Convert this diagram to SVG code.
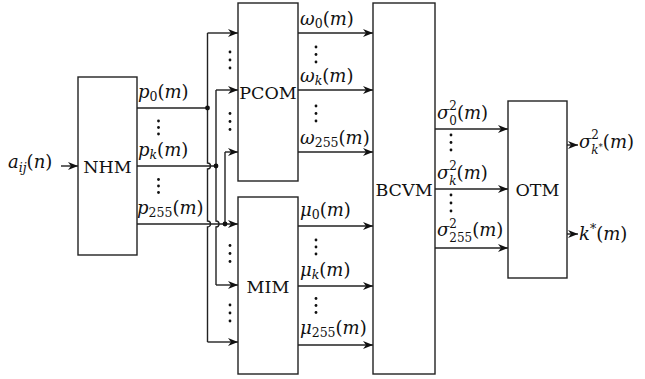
<svg xmlns="http://www.w3.org/2000/svg" width="645" height="379" viewBox="0 0 645 379">
<defs>
<style>
.box{fill:#fff;stroke:#222;stroke-width:1.4}
.ln{fill:none;stroke:#222;stroke-width:1.4}
.bt{font-family:'DejaVu Serif',serif;font-size:17.5px;fill:#111;text-anchor:middle}
.m{font-family:'DejaVu Serif',serif;font-size:18px;fill:#111}
.i{font-style:italic}
.s{font-size:12.5px}
.t{font-size:12px}
.d{fill:#111}
</style>
<marker id="arr" viewBox="0 0 10 8" refX="10" refY="4" markerWidth="10" markerHeight="8" markerUnits="userSpaceOnUse" orient="auto">
<path d="M0,0 L10,4 L0,8 L3,4 Z" fill="#111"/>
</marker>
</defs>
<rect width="645" height="379" fill="#fff"/>

<g id="connectors">
<path class="ln" d="M61,166 H78" marker-end="url(#arr)"/>
<path class="ln" d="M137,108 H207.5"/>
<path class="ln" d="M137,166 H216"/>
<path class="ln" d="M137,224 H238" marker-end="url(#arr)"/>
<path class="ln" d="M207.5,33 V163 A3,3 0 0 1 207.5,169 V221 A3,3 0 0 1 207.5,227 V342"/>
<path class="ln" d="M216,90 V221 A3,3 0 0 1 216,227 V285"/>
<path class="ln" d="M225,152 V224"/>
<path class="ln" d="M207.5,33 H238" marker-end="url(#arr)"/>
<path class="ln" d="M216,90 H238" marker-end="url(#arr)"/>
<path class="ln" d="M225,152 H238" marker-end="url(#arr)"/>
<path class="ln" d="M216,285 H238" marker-end="url(#arr)"/>
<path class="ln" d="M207.5,342 H238" marker-end="url(#arr)"/>
<circle class="d" cx="207.5" cy="108" r="2.4"/>
<circle class="d" cx="216" cy="166" r="2.4"/>
<circle class="d" cx="225" cy="224" r="2.4"/>
<path class="ln" d="M298,33 H373" marker-end="url(#arr)"/>
<path class="ln" d="M298,90 H373" marker-end="url(#arr)"/>
<path class="ln" d="M298,152 H373" marker-end="url(#arr)"/>
<path class="ln" d="M298,226 H373" marker-end="url(#arr)"/>
<path class="ln" d="M298,286 H373" marker-end="url(#arr)"/>
<path class="ln" d="M298,345 H373" marker-end="url(#arr)"/>
<path class="ln" d="M435,129 H508" marker-end="url(#arr)"/>
<path class="ln" d="M435,189 H508" marker-end="url(#arr)"/>
<path class="ln" d="M435,248 H508" marker-end="url(#arr)"/>
<path class="ln" d="M567,145 H578" marker-end="url(#arr)"/>
<path class="ln" d="M567,234 H578" marker-end="url(#arr)"/>
</g>

<g id="NHM">
<rect class="box" x="78" y="77" width="59" height="178"/>
<text class="bt" x="107.5" y="172.5">NHM</text>
</g>
<g id="PCOM">
<rect class="box" x="238" y="3" width="60" height="178"/>
<text class="bt" x="268" y="98.5">PCOM</text>
</g>
<g id="MIM">
<rect class="box" x="238" y="197" width="60" height="177"/>
<text class="bt" x="268" y="292.5">MIM</text>
</g>
<g id="BCVM">
<rect class="box" x="373" y="3" width="62" height="371"/>
<text class="bt" x="404" y="196">BCVM</text>
</g>
<g id="OTM">
<rect class="box" x="508" y="101" width="59" height="177"/>
<text class="bt" x="537.5" y="196">OTM</text>
</g>

<g id="ellipses" class="d">
<circle cx="158.5" cy="121" r="1.4"/><circle cx="158.5" cy="127.5" r="1.4"/><circle cx="158.5" cy="134" r="1.4"/>
<circle cx="158.5" cy="179.5" r="1.4"/><circle cx="158.5" cy="186" r="1.4"/><circle cx="158.5" cy="192.5" r="1.4"/>
<circle cx="230" cy="52" r="1.4"/><circle cx="230" cy="60" r="1.4"/><circle cx="230" cy="68" r="1.4"/>
<circle cx="230" cy="113.5" r="1.4"/><circle cx="230" cy="121.5" r="1.4"/><circle cx="230" cy="129.5" r="1.4"/>
<circle cx="230" cy="245.5" r="1.4"/><circle cx="230" cy="253.5" r="1.4"/><circle cx="230" cy="261.5" r="1.4"/>
<circle cx="230" cy="305" r="1.4"/><circle cx="230" cy="313" r="1.4"/><circle cx="230" cy="321" r="1.4"/>
<circle cx="316" cy="47" r="1.4"/><circle cx="316" cy="54.5" r="1.4"/><circle cx="316" cy="62" r="1.4"/>
<circle cx="316" cy="106" r="1.4"/><circle cx="316" cy="113.5" r="1.4"/><circle cx="316" cy="121" r="1.4"/>
<circle cx="316" cy="240" r="1.4"/><circle cx="316" cy="247" r="1.4"/><circle cx="316" cy="254" r="1.4"/>
<circle cx="316" cy="298.5" r="1.4"/><circle cx="316" cy="305.5" r="1.4"/><circle cx="316" cy="312.5" r="1.4"/>
<circle cx="451" cy="135" r="1.4"/><circle cx="451" cy="142.5" r="1.4"/><circle cx="451" cy="150" r="1.4"/>
<circle cx="451" cy="195" r="1.4"/><circle cx="451" cy="203" r="1.4"/><circle cx="451" cy="211" r="1.4"/>
</g>

<g id="labels" class="m">
<text x="8" y="168"><tspan class="i">a</tspan><tspan class="s i" dy="4">ij</tspan><tspan dy="-4">(</tspan><tspan class="i">n</tspan>)</text>
<text x="138" y="98"><tspan class="i">p</tspan><tspan class="s" dy="3">0</tspan><tspan dy="-3">(</tspan><tspan class="i">m</tspan>)</text>
<text x="138" y="156"><tspan class="i">p</tspan><tspan class="s i" dy="3">k</tspan><tspan dy="-3">(</tspan><tspan class="i">m</tspan>)</text>
<text x="137" y="214"><tspan class="i">p</tspan><tspan class="s" dy="3">255</tspan><tspan dy="-3">(</tspan><tspan class="i">m</tspan>)</text>
<text x="300" y="25"><tspan class="i">ω</tspan><tspan class="s" dy="3">0</tspan><tspan dy="-3">(</tspan><tspan class="i">m</tspan>)</text>
<text x="300" y="82"><tspan class="i">ω</tspan><tspan class="s i" dy="3">k</tspan><tspan dy="-3">(</tspan><tspan class="i">m</tspan>)</text>
<text x="300" y="144"><tspan class="i">ω</tspan><tspan class="s" dy="3">255</tspan><tspan dy="-3">(</tspan><tspan class="i">m</tspan>)</text>
<text x="300" y="216"><tspan class="i">μ</tspan><tspan class="s" dy="3">0</tspan><tspan dy="-3">(</tspan><tspan class="i">m</tspan>)</text>
<text x="300" y="276"><tspan class="i">μ</tspan><tspan class="s i" dy="3">k</tspan><tspan dy="-3">(</tspan><tspan class="i">m</tspan>)</text>
<text x="300" y="334"><tspan class="i">μ</tspan><tspan class="s" dy="3">255</tspan><tspan dy="-3">(</tspan><tspan class="i">m</tspan>)</text>
<text x="437" y="118.5"><tspan class="i">σ</tspan><tspan class="t" dy="-8.5">2</tspan><tspan class="t" dx="-7.6" dy="14.5">0</tspan><tspan dy="-6">(</tspan><tspan class="i">m</tspan>)</text>
<text x="437" y="178.5"><tspan class="i">σ</tspan><tspan class="t" dy="-8.5">2</tspan><tspan class="t i" dx="-7.6" dy="14.5">k</tspan><tspan dy="-6">(</tspan><tspan class="i">m</tspan>)</text>
<text x="437" y="236"><tspan class="i">σ</tspan><tspan class="t" dy="-8.5">2</tspan><tspan class="t" dx="-7.6" dy="14.5">255</tspan><tspan dy="-6">(</tspan><tspan class="i">m</tspan>)</text>
<text x="579" y="147.5"><tspan class="i">σ</tspan><tspan class="t" dy="-8.5">2</tspan><tspan class="t i" dx="-7.6" dy="14.5">k</tspan><tspan font-size="8.5" dy="-4">*</tspan><tspan dy="-2">(</tspan><tspan class="i">m</tspan>)</text>
<text x="579" y="239.5"><tspan class="i">k</tspan><tspan class="s" dy="-7">*</tspan><tspan dy="7">(</tspan><tspan class="i">m</tspan>)</text>
</g>
</svg>
